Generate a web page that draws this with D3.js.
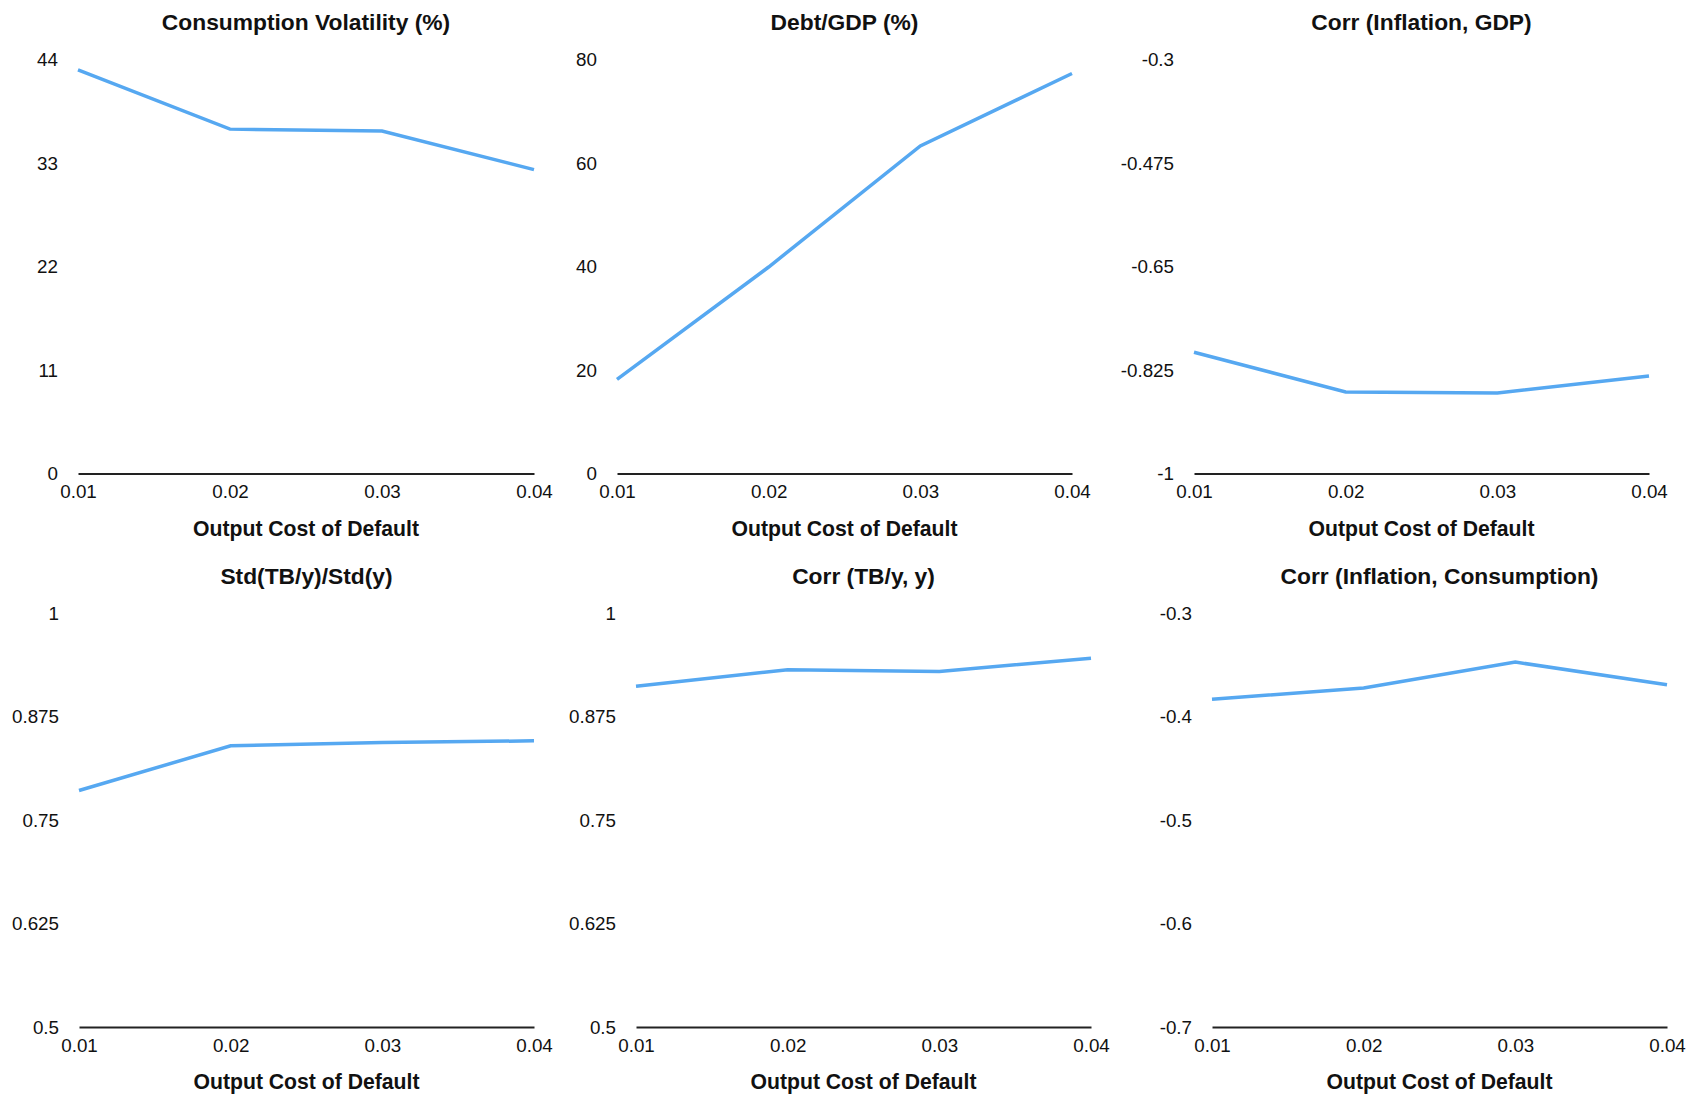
<!DOCTYPE html>
<html>
<head>
<meta charset="utf-8">
<script src="https://cdn.jsdelivr.net/npm/d3@7"></script>
<style>
  html, body { margin: 0; padding: 0; background: #fff; }
  svg { display: block; font-family: "Liberation Sans", Arial, Helvetica, sans-serif; }
</style>
</head>
<body>
<svg id="chart" width="1700" height="1098"></svg>
<script>
// ---- data ----
const outputCost = [0.01, 0.02, 0.03, 0.04];
const xTickLabels = ["0.01", "0.02", "0.03", "0.04"];

const consumptionVolatility = [42.9, 36.6, 36.4, 32.3];
const debtToGdp = [18.2, 39.9, 63.3, 77.3];
const corrInflationGdp = [-0.795, -0.862, -0.864, -0.835];
const stdTbOverStdY = [0.786, 0.840, 0.844, 0.846];
const corrTbY = [0.912, 0.932, 0.930, 0.946];
const corrInflationConsumption = [-0.383, -0.372, -0.347, -0.369];

const panelTitles = [
  "Consumption Volatility (%)", "Debt/GDP (%)", "Corr (Inflation, GDP)",
  "Std(TB/y)/Std(y)", "Corr (TB/y, y)", "Corr (Inflation, Consumption)"
];
const yTicks1 = [0, 11, 22, 33, 44];
const yTicks2 = [0, 20, 40, 60, 80];
const yTicks3 = [-1, -0.825, -0.65, -0.475, -0.3];
const yTicks4 = [0.5, 0.625, 0.75, 0.875, 1];
const yTicks5 = [0.5, 0.625, 0.75, 0.875, 1];
const yTicks6 = [-0.7, -0.6, -0.5, -0.4, -0.3];
const xAxisTitle = "Output Cost of Default";

// ---- layout ----
const panels = [
  { title: panelTitles[0], values: consumptionVolatility, ticks: yTicks1, x0: 78,   x1: 534,  row: 0 },
  { title: panelTitles[1], values: debtToGdp,             ticks: yTicks2, x0: 617,  x1: 1072, row: 0 },
  { title: panelTitles[2], values: corrInflationGdp,      ticks: yTicks3, x0: 1194, x1: 1649, row: 0 },
  { title: panelTitles[3], values: stdTbOverStdY,         ticks: yTicks4, x0: 79,   x1: 534,  row: 1 },
  { title: panelTitles[4], values: corrTbY,               ticks: yTicks5, x0: 636,  x1: 1091, row: 1 },
  { title: panelTitles[5], values: corrInflationConsumption, ticks: yTicks6, x0: 1212, x1: 1667, row: 1 }
];
const rows = [ { top: 59.5, bottom: 473.5 }, { top: 613.5, bottom: 1027 } ];

const svg = d3.select("#chart");
const lineColor = "#56a8f1";
const tickFont = 18.8;

panels.forEach(p => {
  const r = rows[p.row];
  const x = d3.scaleLinear().domain([outputCost[0], outputCost[outputCost.length - 1]]).range([p.x0, p.x1]);
  const y = d3.scaleLinear().domain([p.ticks[0], p.ticks[p.ticks.length - 1]]).range([r.bottom, r.top]);
  const g = svg.append("g");

  // y axis labels (no line, no ticks)
  const yAxis = d3.axisLeft(y).tickValues(p.ticks).tickSize(0).tickPadding(20)
    .tickFormat(d => String(d));
  const ya = g.append("g").attr("transform", `translate(${p.x0},0)`).call(yAxis);
  ya.select(".domain").remove();
  ya.selectAll("text").attr("font-size", tickFont).attr("fill", "#111")
    .attr("font-family", "'Liberation Sans', Arial, sans-serif");

  // x axis
  const xAxis = d3.axisBottom(x).tickValues(outputCost).tickSize(0).tickSizeOuter(0).tickPadding(11.5)
    .tickFormat((d, i) => xTickLabels[i]);
  const xa = g.append("g").attr("transform", `translate(0,${r.bottom})`).call(xAxis);
  xa.select(".domain").attr("stroke", "#222").attr("stroke-width", 1.8);
  xa.selectAll("text").attr("font-size", tickFont).attr("fill", "#111")
    .attr("font-family", "'Liberation Sans', Arial, sans-serif");

  // line
  const line = d3.line().x((d, i) => x(outputCost[i])).y(d => y(d));
  g.append("path").datum(p.values)
    .attr("d", line)
    .attr("fill", "none")
    .attr("stroke", lineColor)
    .attr("stroke-width", 3.5)
    .attr("stroke-linejoin", "miter");

  const cx = (p.x0 + p.x1) / 2;
  // title
  g.append("text").attr("x", cx).attr("y", r.top - 30)
    .attr("text-anchor", "middle").attr("font-weight", "bold").attr("font-size", 22.8)
    .attr("fill", "#111").text(p.title);
  // x axis title
  g.append("text").attr("x", cx).attr("y", r.bottom + 62)
    .attr("text-anchor", "middle").attr("font-weight", "bold").attr("font-size", 21.2)
    .attr("fill", "#111").text(xAxisTitle);
});
</script>
</body>
</html>
